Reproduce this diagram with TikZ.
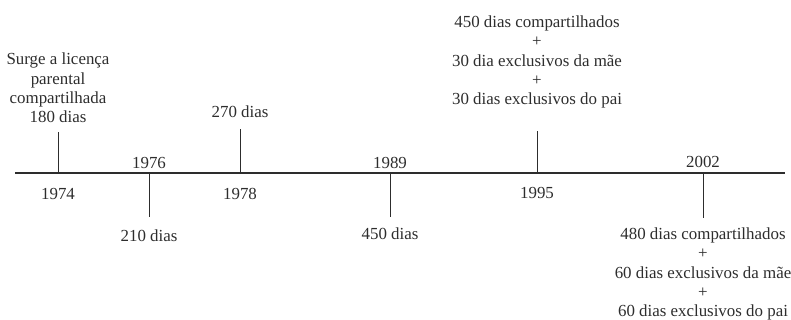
\documentclass[tikz,border=0pt]{standalone}
\usepackage{fontspec}
\setmainfont{Liberation Serif}
\usepackage{tikz}
\usepackage{xcolor}
\usetikzlibrary{positioning}
\definecolor{tlgray}{RGB}{45, 45, 45}
\tikzset{
    axisline/.style={draw=tlgray, line width=1.1pt},
    tickline/.style={draw=tlgray, line width=1pt},
    yearnode/.style={font=\fontsize{16.9}{19.4}\selectfont, text=tlgray, inner sep=0pt},
    eventnode/.style={yearnode, align=center}
}

\begin{document}
\begin{tikzpicture}[x=1pt, y=-1pt]
                \useasboundingbox (0,0) rectangle (791,320);

                % The axis of the timeline
                \coordinate (axstart) at (15,173);
                \coordinate (axend) at (785,173);
                \draw[axisline] (axstart) -- (axend);

                % Points on the axis and the free ends of the ticks
                \coordinate (p1974) at (58,173);  \coordinate (e1974) at (58,132);
                \coordinate (p1976) at (149,173); \coordinate (e1976) at (149,217);
                \coordinate (p1978) at (240,173); \coordinate (e1978) at (240,129);
                \coordinate (p1989) at (390,173); \coordinate (e1989) at (390,217);
                \coordinate (p1995) at (537,173); \coordinate (e1995) at (537,131);
                \coordinate (p2002) at (703,173); \coordinate (e2002) at (703,218);

                \foreach \yr in {1974,1976,1978,1989,1995,2002}
                    \draw[tickline] (p\yr) -- (e\yr);

                % Years
                \node[yearnode] (y1974) at (58,194) {1974};
                \node[yearnode] (y1976) at (149,163) {1976};
                \node[yearnode] (y1978) at (240,194) {1978};
                \node[yearnode] (y1989) at (390,163) {1989};
                \node[yearnode] (y1995) at (537,193) {1995};
                \node[yearnode] (y2002) at (703,162) {2002};

                % What changed in each year
                \node[eventnode] (ev1974) at (58,88) {Surge a licença\\parental\\compartilhada\\180 dias};
                \node[eventnode] (ev1976) at (149,236) {210 dias};
                \node[eventnode] (ev1978) at (240,112) {270 dias};
                \node[eventnode] (ev1989) at (390,234) {450 dias};
                \node[eventnode] (ev1995) at (537,62) {450 dias compartilhados\\+\\30 dia exclusivos da mãe\\+\\30 dias exclusivos do pai};
                \node[eventnode] (ev2002) at (703,274) {480 dias compartilhados\\+\\60 dias exclusivos da mãe\\+\\60 dias exclusivos do pai};
            \end{tikzpicture}
\end{document}
